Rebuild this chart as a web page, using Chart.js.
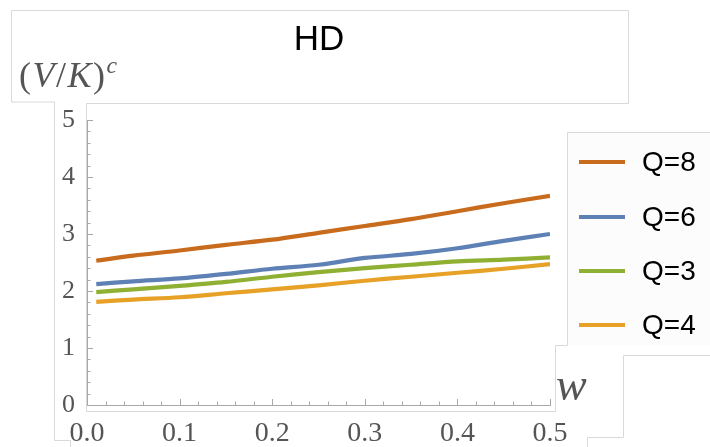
<!DOCTYPE html>
<html>
<head>
<meta charset="utf-8">
<script src="https://cdn.jsdelivr.net/npm/chart.js@4/dist/chart.umd.min.js"></script>
<style>
  html, body { margin: 0; padding: 0; background: #fff; }
  #wrap { position: relative; width: 710px; height: 447px; overflow: hidden; }
  #chart { position: absolute; left: 0; top: 0; }
  #frames { position: absolute; left: 0; top: 0; pointer-events: none; }
  .txt { position: absolute; white-space: nowrap; }
  #title { left: 269px; width: 100px; top: 20px; text-align: center; font: 35px/35px "Liberation Sans", Arial, sans-serif; color: #000; }
  #ylab { left: 19px; top: 57px; font: 36px/36px "Liberation Serif", "Times New Roman", serif; color: #555; letter-spacing: 1.5px; }
  #ylab i { font-style: italic; }
  #ylab sup { font-size: 0.66em; font-style: italic; vertical-align: 0.6em; line-height: 0; }
  #xlab { left: 556px; top: 362px; font: italic 46px/46px "Liberation Serif", "Times New Roman", serif; color: #555; }
  #legend { position: absolute; left: 568px; top: 133px; width: 142px; height: 212px; background: #fcfcfc; }
  .item { position: absolute; left: 0; height: 30px; display: flex; align-items: center; }
  .item .sw { width: 46px; height: 3.5px; margin-left: 11px; margin-right: 17px; }
  .item span { font: 28px/30px "Liberation Sans", Arial, sans-serif; color: #000; }
</style>
</head>
<body>
<div id="wrap">
  <canvas id="chart" width="710" height="447"></canvas>
  <svg id="frames" width="710" height="447" fill="none" stroke="#d9d9d9" stroke-width="1">
    <polyline points="11.5,102 11.5,10.5 628.5,10.5 628.5,103.5" />
    <polyline points="11.5,102 54.5,102 54.5,440.5 70.5,440.5 70.5,447" />
    <polyline points="628.5,103.5 86.5,103.5 86.5,411.5 555.5,411.5 555.5,345.5 567.5,345.5 567.5,132.5 710,132.5" />
    <polyline points="710,355.5 623.5,355.5 623.5,437.5 587.5,437.5 587.5,447" />
  </svg>
  <div id="title" class="txt">HD</div>
  <div id="ylab" class="txt">(<i>V</i>/<i>K</i>)<sup>c</sup></div>
  <div id="xlab" class="txt">w</div>
  <div id="legend"></div>
</div>
<script>
(function() {
  // w values and the four curves
  const wValues = [0.01, 0.05, 0.1, 0.15, 0.2, 0.25, 0.3, 0.35, 0.4, 0.45, 0.5];
  const q8 = [2.53, 2.62, 2.71, 2.81, 2.90, 3.02, 3.14, 3.26, 3.40, 3.54, 3.67];
  const q6 = [2.12, 2.17, 2.22, 2.30, 2.39, 2.46, 2.58, 2.65, 2.75, 2.88, 3.00];
  const q3 = [1.98, 2.03, 2.09, 2.16, 2.25, 2.33, 2.40, 2.46, 2.52, 2.55, 2.59];
  const q4 = [1.81, 1.85, 1.89, 1.96, 2.03, 2.10, 2.18, 2.25, 2.32, 2.39, 2.47];

  const seriesLabels = ['Q=8', 'Q=6', 'Q=3', 'Q=4'];
  const seriesColors = ['#c96b1d', '#5e81b5', '#8fb032', '#e6a126'];
  const seriesValues = [q8, q6, q3, q4];

  const xTicks = [0, 0.1, 0.2, 0.3, 0.4, 0.5];
  const yTicks = [0, 1, 2, 3, 4, 5];

  const axisColor = '#a8a8a8';
  const labelColor = '#555';
  const serif = '"Liberation Serif", "Times New Roman", serif';

  // Mathematica-style ticks drawn inward, major + minor
  const innerTicks = {
    id: 'innerTicks',
    afterDraw(chart) {
      const { ctx, scales, chartArea } = chart;
      const xs = scales.x;
      const ys = scales.y;
      ctx.save();
      ctx.strokeStyle = axisColor;
      ctx.lineWidth = 1;
      ctx.beginPath();
      for (let i = 0; i <= 25; i++) {
        const v = i * 0.02;
        const px = Math.round(xs.getPixelForValue(v)) + 0.5;
        const len = i % 5 === 0 ? 6 : 3.5;
        ctx.moveTo(px, chartArea.bottom);
        ctx.lineTo(px, chartArea.bottom - len);
      }
      for (let i = 0; i <= 25; i++) {
        const v = i * 0.2;
        const py = Math.round(ys.getPixelForValue(v)) + 0.5;
        const len = i % 5 === 0 ? 6 : 3.5;
        ctx.moveTo(chartArea.left, py);
        ctx.lineTo(chartArea.left + len, py);
      }
      ctx.stroke();
      ctx.restore();
    }
  };

  const datasets = seriesValues.map((vals, i) => ({
    label: seriesLabels[i],
    data: vals.map((y, j) => ({ x: wValues[j], y })),
    borderColor: seriesColors[i],
    backgroundColor: seriesColors[i],
    borderWidth: 4.2,
    pointRadius: 0,
    tension: 0.3,
    fill: false
  }));

  new Chart(document.getElementById('chart'), {
    type: 'line',
    data: { datasets },
    plugins: [innerTicks],
    options: {
      responsive: false,
      animation: false,
      layout: { padding: { top: 120, right: 160, bottom: 0, left: 0 } },
      plugins: {
        legend: { display: false },
        tooltip: { enabled: false }
      },
      scales: {
        x: {
          type: 'linear',
          min: 0,
          max: 0.5,
          afterFit(scale) { scale.height = 42; },
          afterBuildTicks(scale) { scale.ticks = xTicks.map((value) => ({ value })); },
          grid: { display: false, drawTicks: false },
          border: { display: true, color: axisColor, width: 1 },
          ticks: {
            padding: 12,
            color: labelColor,
            font: { family: serif, size: 28 },
            maxRotation: 0,
            callback(value) { return value.toFixed(1); }
          }
        },
        y: {
          min: 0,
          max: 5,
          afterFit(scale) { scale.width = 87; },
          afterBuildTicks(scale) { scale.ticks = yTicks.map((value) => ({ value })); },
          grid: { display: false, drawTicks: false },
          border: { display: true, color: axisColor, width: 1 },
          ticks: {
            padding: 12,
            color: labelColor,
            font: { family: serif, size: 26 },
            callback(value) { return String(value); }
          }
        }
      }
    }
  });

  // legend built from the same series arrays
  const legendEl = document.getElementById('legend');
  const legendTops = [14, 69, 123, 177];
  seriesLabels.forEach((label, i) => {
    const row = document.createElement('div');
    row.className = 'item';
    row.style.top = legendTops[i] + 'px';
    const sw = document.createElement('div');
    sw.className = 'sw';
    sw.style.background = seriesColors[i];
    const span = document.createElement('span');
    span.textContent = label;
    row.appendChild(sw);
    row.appendChild(span);
    legendEl.appendChild(row);
  });
})();
</script>
</body>
</html>
